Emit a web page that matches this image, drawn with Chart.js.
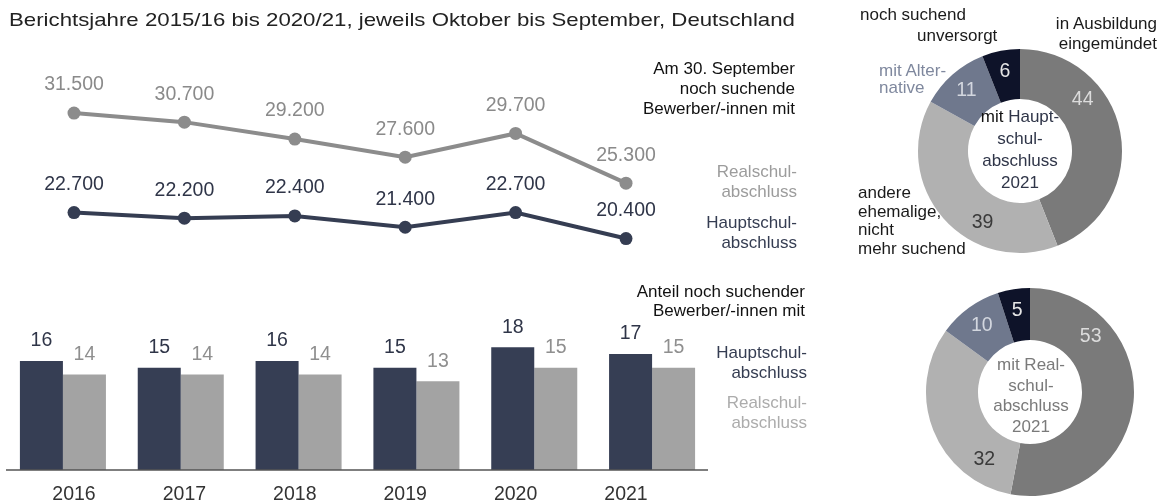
<!DOCTYPE html>
<html><head><meta charset="utf-8">
<script src="https://cdn.jsdelivr.net/npm/chart.js@4.4.1/dist/chart.umd.min.js"></script>
<style>
html,body{margin:0;padding:0;width:1158px;height:504px;overflow:hidden;background:#fff;font-family:"Liberation Sans",Arial,sans-serif;}
canvas{position:absolute;}
.t{position:absolute;white-space:nowrap;font-size:17px;line-height:20px;color:#1a1a1a;}
.r{text-align:right;}
.cen{text-align:center;}
</style></head><body>
<canvas id="line" style="left:0;top:0" width="760" height="504"></canvas>
<canvas id="bar" style="left:0;top:270px" width="720" height="234"></canvas>
<canvas id="d1" style="left:914px;top:45px" width="212" height="212"></canvas>
<canvas id="d2" style="left:924px;top:286px" width="212" height="212"></canvas>

<div class="t" style="left:9px;top:10px;font-size:19px;color:#222;transform:scaleX(1.17);transform-origin:left center;">Berichtsjahre 2015/16 bis 2020/21, jeweils Oktober bis September, Deutschland</div>

<div class="t r" style="right:363px;top:59px;color:#111;">Am 30. September<br>noch suchende<br>Bewerber/-innen mit</div>
<div class="t r" style="right:361px;top:162px;color:#9c9c9c;">Realschul-<br>abschluss</div>
<div class="t r" style="right:361px;top:213px;color:#353d52;">Hauptschul-<br>abschluss</div>

<div class="t r" style="right:353px;top:282px;line-height:19px;color:#111;">Anteil noch suchender<br>Bewerber/-innen mit</div>
<div class="t r" style="right:351px;top:343px;color:#353d52;">Hauptschul-<br>abschluss</div>
<div class="t r" style="right:351px;top:393px;color:#acacac;">Realschul-<br>abschluss</div>

<div class="t" style="left:860px;top:5px;">noch suchend</div>
<div class="t" style="left:917px;top:26px;">unversorgt</div>
<div class="t r" style="right:1px;top:14px;">in Ausbildung<br>eingemündet</div>
<div class="t" style="left:879px;top:62px;line-height:17px;color:#7f889e;">mit Alter-<br>native</div>
<div class="t" style="left:858px;top:184px;line-height:18.5px;">andere<br>ehemalige,<br>nicht<br>mehr suchend</div>

<div class="t cen" style="left:960px;width:120px;top:106px;line-height:22px;font-size:17px;color:#2f3548;"><span style="color:#111">mit</span> Haupt-<br>schul-<br>abschluss<br>2021</div>
<div class="t cen" style="left:971px;width:120px;top:355px;line-height:20.7px;font-size:17px;color:#7a7a7a;">mit Real-<br>schul-<br>abschluss<br>2021</div>

<script>
// ---- data ----
const years = ['2016','2017','2018','2019','2020','2021'];
const realschulCount = [31500, 30700, 29200, 27600, 29700, 25300];
const hauptschulCount = [22700, 22200, 22400, 21400, 22700, 20400];
const hauptschulShare = [16, 15, 16, 15, 18, 17];
const realschulShare = [14, 14, 14, 13, 15, 15];
const statusLabels = ['in Ausbildung eingemündet', 'andere ehemalige, nicht mehr suchend', 'mit Alternative', 'noch suchend unversorgt'];
const hauptschulStatus2021 = [44, 39, 11, 6];
const realschulStatus2021 = [53, 32, 10, 5];

const FONT = '"Liberation Sans", Arial, sans-serif';
const fmt = v => String(v).replace(/\B(?=(\d{3})+(?!\d))/g, '.');

// ---- line chart ----
const lineLabels = {
  id: 'lineLabels',
  afterDatasetsDraw(chart) {
    const ctx = chart.ctx;
    ctx.save();
    ctx.font = '19.5px ' + FONT;
    ctx.textAlign = 'center';
    ctx.textBaseline = 'middle';
    chart.data.datasets.forEach((ds, di) => {
      chart.getDatasetMeta(di).data.forEach((pt, i) => {
        ctx.fillStyle = ds.labelColor;
        ctx.fillText(fmt(ds.data[i]), pt.x, pt.y - 28);
      });
    });
    const xs = chart.scales.x;
    ctx.fillStyle = '#333';
    years.forEach((y, i) => ctx.fillText(y, xs.getPixelForValue(i), 495));
    ctx.restore();
  }
};
new Chart(document.getElementById('line'), {
  type: 'line',
  data: {
    labels: years,
    datasets: [
      {label: 'Realschulabschluss', data: realschulCount, borderColor: '#8c8c8c', backgroundColor: '#8c8c8c',
       pointBackgroundColor: '#8c8c8c', borderWidth: 4, pointRadius: 6.5, pointBorderWidth: 0, tension: 0, clip: false, labelColor: '#8a8a8a'},
      {label: 'Hauptschulabschluss', data: hauptschulCount, borderColor: '#353d52', backgroundColor: '#353d52',
       pointBackgroundColor: '#353d52', borderWidth: 4, pointRadius: 6.5, pointBorderWidth: 0, tension: 0, clip: false, labelColor: '#2f3548'}
    ]
  },
  options: {
    responsive: false, animation: false,
    layout: {padding: {left: 74, right: 134, top: 60, bottom: 244}},
    scales: {x: {display: false}, y: {display: false, min: 18500, max: 36200}},
    plugins: {legend: {display: false}, tooltip: {enabled: false}}
  },
  plugins: [lineLabels]
});

// ---- bar chart ----
const barLabels = {
  id: 'barLabels',
  afterDatasetsDraw(chart) {
    const ctx = chart.ctx;
    const ca = chart.chartArea;
    const y0 = chart.scales.y.getPixelForValue(0);
    ctx.save();
    ctx.strokeStyle = '#555';
    ctx.lineWidth = 1.5;
    ctx.beginPath();
    ctx.moveTo(ca.left + 2, y0);
    ctx.lineTo(ca.right - 3, y0);
    ctx.stroke();
    ctx.font = '19.5px ' + FONT;
    ctx.textAlign = 'center';
    ctx.textBaseline = 'middle';
    chart.data.datasets.forEach((ds, di) => {
      chart.getDatasetMeta(di).data.forEach((b, i) => {
        ctx.fillStyle = ds.labelColor;
        ctx.fillText(String(ds.data[i]), b.x, b.y - 20);
      });
    });
    ctx.restore();
  }
};
new Chart(document.getElementById('bar'), {
  type: 'bar',
  data: {
    labels: years,
    datasets: [
      {label: 'Hauptschulabschluss', data: hauptschulShare, backgroundColor: '#363e54', labelColor: '#2f3548'},
      {label: 'Realschulabschluss', data: realschulShare, backgroundColor: '#a3a3a3', labelColor: '#8f8f8f'}
    ]
  },
  options: {
    responsive: false, animation: false,
    layout: {padding: {left: 4, right: 9, top: 20, bottom: 34}},
    datasets: {bar: {categoryPercentage: 0.73, barPercentage: 1.0, borderWidth: 0}},
    scales: {x: {display: false}, y: {display: false, min: 0, max: 26.4}},
    plugins: {legend: {display: false}, tooltip: {enabled: false}}
  },
  plugins: [barLabels]
});

// ---- doughnuts ----
const donutLabels = {
  id: 'donutLabels',
  afterDatasetsDraw(chart) {
    const ctx = chart.ctx;
    const ds = chart.data.datasets[0];
    ctx.save();
    ctx.font = '19.5px ' + FONT;
    ctx.textAlign = 'center';
    ctx.textBaseline = 'middle';
    chart.getDatasetMeta(0).data.forEach((arc, i) => {
      const p = arc.getProps(['x', 'y', 'startAngle', 'endAngle', 'innerRadius', 'outerRadius']);
      const a = p.startAngle + (p.endAngle - p.startAngle) * ds.labelPos[i];
      const r = (p.innerRadius + p.outerRadius) / 2 + 4;
      ctx.fillStyle = ds.labelColors[i];
      ctx.fillText(String(ds.data[i]), p.x + r * Math.cos(a), p.y + r * Math.sin(a));
    });
    ctx.restore();
  }
};
const sliceColors = ['#7a7a7a', '#b1b1b1', '#6f788d', '#0e1329'];
const sliceLabelColors = ['#dcdcdc', '#3a3a3a', '#d3d7df', '#e6e6e6'];
function donut(id, values, radius, cutout, labelPos) {
  new Chart(document.getElementById(id), {
    type: 'doughnut',
    data: {labels: statusLabels, datasets: [{data: values, backgroundColor: sliceColors, borderWidth: 0,
      labelColors: sliceLabelColors, labelPos: labelPos}]},
    options: {
      responsive: false, animation: false, radius: radius, cutout: cutout,
      plugins: {legend: {display: false}, tooltip: {enabled: false}}
    },
    plugins: [donutLabels]
  });
}
donut('d1', hauptschulStatus2021, 102, '51%', [0.32, 0.35, 0.5, 0.5]);
donut('d2', realschulStatus2021, 104, '50%', [0.25, 0.2, 0.5, 0.5]);
</script>
</body></html>
